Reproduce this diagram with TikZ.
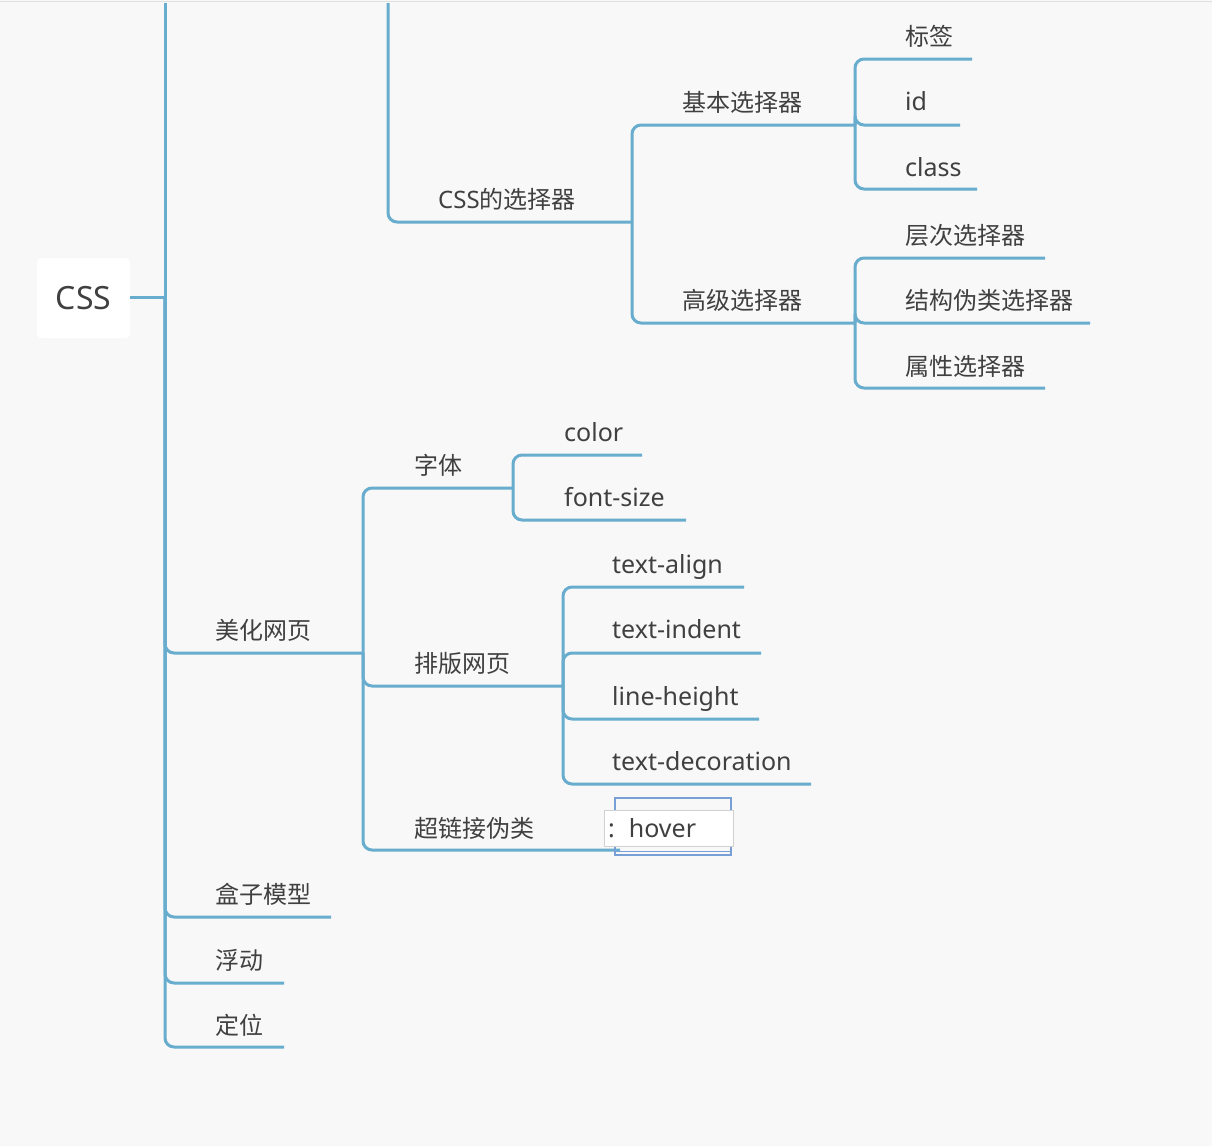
\documentclass[tikz,border=0pt]{standalone}
\usepackage{fontspec}
\setmainfont{Noto Sans}
\newfontfamily\cjk{Noto Sans CJK SC}
\definecolor{bg}{RGB}{248,248,248}
\definecolor{ln}{RGB}{104,172,206}
\definecolor{txt}{RGB}{64,64,64}
\definecolor{selb}{RGB}{120,160,215}
\begin{document}
\begin{tikzpicture}[x=1pt,y=-1pt,
  lbl/.style={anchor=base west, inner sep=0pt, text=txt, font=\fontsize{25}{28}\selectfont},
  cl/.style={lbl, font=\fontsize{24}{28}\selectfont\cjk},
  br/.style={line width=3pt, draw=ln, rounded corners=9pt}]
\useasboundingbox (0,0) rectangle (1212,1146);
\fill[bg] (0,0) rectangle (1212,1146);
\draw[black!12, line width=1.5pt] (0,1.5) -- (1212,1.5);
\begin{scope}
\clip (0,3) rectangle (1212,1146);
% junctions
\coordinate (jroot) at (165,297);
\coordinate (jsel) at (632,222);
\coordinate (jbas) at (855,125);
\coordinate (jadv) at (855,323);
\coordinate (jmh) at (363,653);
\coordinate (jzt) at (513,488);
\coordinate (jpb) at (563,686);
% line ends
\coordinate (eTop) at (165,-10);
\coordinate (eTop2) at (388,-10);
\coordinate (eBas) at (855,125);
\coordinate (eAdv) at (855,323);
\coordinate (eBq) at (972,59);
\coordinate (eId) at (960,125);
\coordinate (eCl) at (977,189);
\coordinate (eCc) at (1045,258);
\coordinate (eJg) at (1090,323);
\coordinate (eSx) at (1045,388);
\coordinate (eMh) at (363,653);
\coordinate (eZt) at (513,488);
\coordinate (eCo) at (642,455);
\coordinate (eFs) at (686,520);
\coordinate (ePb) at (563,686);
\coordinate (eTa) at (744,587);
\coordinate (eTi) at (761,653);
\coordinate (eLh) at (759,719);
\coordinate (eTd) at (811,784);
\coordinate (eCl2) at (620,850);
\coordinate (eHz) at (331,917);
\coordinate (eFd) at (284,983);
\coordinate (eDw) at (284,1047);

% root
\node[fill=white, rounded corners=4pt, minimum width=93pt, minimum height=80pt, inner sep=0pt,
  text=txt, font=\fontsize{32}{36}\selectfont] (root) at (83.5,298) {CSS};
\draw[br, rounded corners=0pt] (root.east |- jroot) -- (jroot);

% trunk
\draw[br] (jroot) -- (eTop);
\draw[br] (jroot) |- (eMh);
\draw[br] (jroot) |- (eHz);
\draw[br] (jroot) |- (eFd);
\draw[br] (jroot) |- (eDw);

% CSS selectors branch
\draw[br] (eTop2) |- (jsel);
\draw[br] (jsel) |- (eBas);
\draw[br] (jsel) |- (eAdv);
\draw[br] (jbas) |- (eBq);
\draw[br] (jbas) |- (eId);
\draw[br] (jbas) |- (eCl);
\draw[br] (jadv) |- (eCc);
\draw[br] (jadv) |- (eJg);
\draw[br] (jadv) |- (eSx);

% 美化网页 branch
\draw[br] (jmh) |- (eZt);
\draw[br] (jmh) |- (ePb);
\draw[br] (jmh) |- (eCl2);
\draw[br] (jzt) |- (eCo);
\draw[br] (jzt) |- (eFs);
\draw[br] (jpb) |- (eTa);
\draw[br] (jpb) |- (eTi);
\draw[br] (jpb) |- (eLh);
\draw[br] (jpb) |- (eTd);
\end{scope}

% labels
\node[lbl, font=\fontsize{24}{28}\selectfont] (sel) at (438,208) {CSS{\cjk 的选择器}};
\node[cl] (bas) at (682,111) {基本选择器};
\node[cl] (adv) at (682,309) {高级选择器};
\node[cl] (bq) at (905,45) {标签};
\node[lbl] (id) at (905,110) {id};
\node[lbl] (cl) at (905,176) {class};
\node[cl] (cc) at (905,244) {层次选择器};
\node[cl] (jg) at (905,309) {结构伪类选择器};
\node[cl] (sx) at (905,375) {属性选择器};
\node[cl] (mh) at (215,639) {美化网页};
\node[cl] (zt) at (414,474) {字体};
\node[lbl] (co) at (564,441) {color};
\node[lbl] (fs) at (564,506) {font-size};
\node[cl] (pb) at (414,672) {排版网页};
\node[lbl] (ta) at (612,573) {text-align};
\node[lbl] (ti) at (612,638) {text-indent};
\node[lbl] (lh) at (612,705) {line-height};
\node[lbl] (td) at (612,770) {text-decoration};
\node[cl] (clj) at (414,837) {超链接伪类};
\node[cl] (hz) at (215,903) {盒子模型};
\node[cl] (fd) at (215,969) {浮动};
\node[cl] (dw) at (215,1034) {定位};

% hover edit box
\draw[selb, line width=1.2pt] (615,798) rectangle (731,855);
\draw[selb, line width=1pt] (615,851) -- (731,851);
\node[draw=black!18, fill=white, line width=0.8pt, minimum width=129pt, minimum height=36pt,
  inner sep=0pt, anchor=north west] (hbox) at (604,810) {};
\node[lbl] (hv) at (608,837) {:\hspace{14pt}hover};
\end{tikzpicture}
\end{document}
